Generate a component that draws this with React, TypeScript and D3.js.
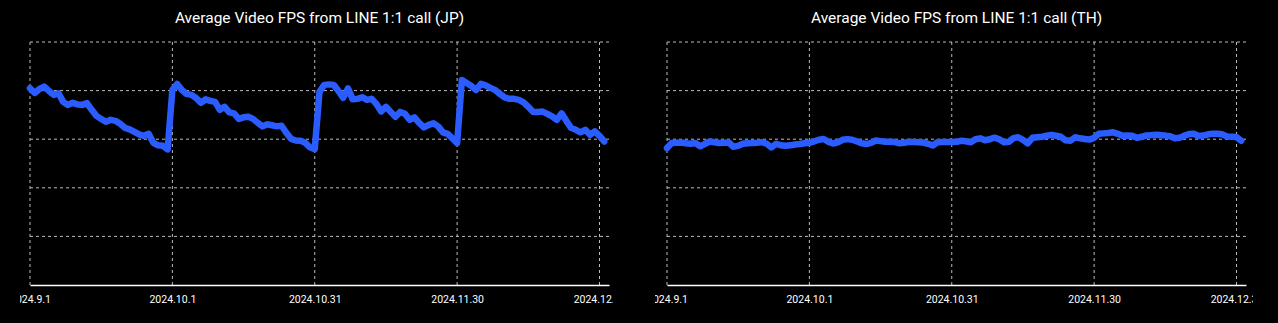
import React, { useEffect, useRef } from "react";
import * as d3 from "d3";

// daily average FPS, 2024-09-01 .. 2024-12-31
const startDate = new Date(Date.UTC(2024, 8, 1));
const endDate = new Date(Date.UTC(2025, 0, 1));

const tickDates = [
  new Date(Date.UTC(2024, 8, 1)),
  new Date(Date.UTC(2024, 9, 1)),
  new Date(Date.UTC(2024, 9, 31)),
  new Date(Date.UTC(2024, 10, 30)),
  new Date(Date.UTC(2024, 11, 30)),
];
const tickLabels = ["2024.9.1", "2024.10.1", "2024.10.31", "2024.11.30", "2024.12.30"];
const yTicks = [0, 5, 10, 15, 20, 25];

const fpsJP = [
  20.25, 19.76, 20.17, 20.41, 19.97, 19.56, 19.73, 18.84, 18.53, 18.74,
  18.58, 18.53, 18.71, 18.02, 17.4, 17.09, 16.79, 16.99, 16.89, 16.58,
  16.17, 16.02, 15.76, 15.5, 15.35, 15.55, 14.63, 14.37, 14.32, 13.96,
  20.07, 20.69, 20.07, 19.66, 19.56, 19.25, 18.74, 19.1, 18.94, 18.84,
  18.02, 18.33, 17.76, 17.66, 17.09, 17.25, 17.3, 17.09, 16.68, 16.32,
  16.53, 16.43, 16.32, 16.38, 15.66, 15.04, 14.87, 14.84, 14.63, 14.17,
  13.98, 19.87, 20.59, 20.64, 20.59, 19.97, 19.25, 20.23, 19.1, 19.15,
  19.32, 19.05, 19.15, 18.63, 17.86, 18.33, 17.81, 17.3, 17.81, 17.61,
  16.99, 17.25, 16.68, 16.22, 16.48, 16.63, 16.32, 15.71, 15.55, 15.09,
  14.6, 21.1, 20.79, 20.48, 20.07, 20.69, 20.53, 20.28, 20.07, 19.66,
  19.3, 19.15, 19.15, 19.05, 18.79, 18.33, 17.81, 17.81, 17.84, 17.61,
  17.35, 16.99, 17.66, 16.89, 16.17, 15.97, 15.71, 15.97, 15.45, 15.81,
  15.35, 14.77,
];

const fpsTH = [
  14.09, 14.6, 14.63, 14.66, 14.58, 14.53, 14.6, 14.27, 14.53, 14.76,
  14.68, 14.6, 14.63, 14.66, 14.22, 14.32, 14.53, 14.58, 14.6, 14.63,
  14.7, 14.53, 14.15, 14.53, 14.37, 14.32, 14.37, 14.46, 14.5, 14.58,
  14.63, 14.78, 14.94, 15.02, 14.73, 14.56, 14.68, 14.94, 15.01, 14.94,
  14.78, 14.58, 14.5, 14.63, 14.87, 14.8, 14.73, 14.73, 14.7, 14.58,
  14.63, 14.73, 14.7, 14.68, 14.66, 14.53, 14.35, 14.68, 14.7, 14.7,
  14.7, 14.73, 14.84, 14.78, 14.68, 14.99, 15.09, 14.89, 14.99, 15.16,
  14.99, 14.68, 14.73, 15.11, 15.2, 14.94, 14.58, 15.14, 15.2, 15.25,
  15.35, 15.45, 15.35, 15.25, 14.89, 14.84, 15.2, 15.09, 15.02, 14.96,
  15.14, 15.55, 15.6, 15.64, 15.71, 15.55, 15.35, 15.37, 15.35, 15.14,
  15.25, 15.38, 15.42, 15.45, 15.42, 15.37, 15.3, 15.09, 15.14, 15.37,
  15.53, 15.57, 15.33, 15.37, 15.5, 15.55, 15.55, 15.5, 15.28, 15.25,
  15.22, 14.84,
];

const panels = [
  { id: "jp", title: "Average Video FPS from LINE 1:1 call (JP)", values: fpsJP, left: 30, right: 609, clipLeft: 20, clipRight: 613 },
  { id: "th", title: "Average Video FPS from LINE 1:1 call (TH)", values: fpsTH, left: 667, right: 1246, clipLeft: 655, clipRight: 1253 },
];

const W = 1278, H = 323;
const top = 42, bottom = 285;

export default function App() {
  const ref = useRef<SVGSVGElement>(null);

  useEffect(() => {
    const svg = d3.select(ref.current);
    svg.selectAll("*").remove();

    svg.append("rect").attr("width", W).attr("height", H).attr("fill", "#000");

    const y = d3.scaleLinear().domain([0, 25]).range([bottom, top]);

    panels.forEach((p) => {
      const x = d3.scaleUtc().domain([startDate, endDate]).range([p.left, p.right]);

      svg.append("clipPath").attr("id", "clip-" + p.id)
        .append("rect")
        .attr("x", p.clipLeft).attr("y", 0)
        .attr("width", p.clipRight - p.clipLeft).attr("height", H);

      svg.append("text")
        .attr("x", (p.left + p.right) / 2)
        .attr("y", 23)
        .attr("text-anchor", "middle")
        .attr("fill", "#fff")
        .attr("font-family", "Roboto, sans-serif")
        .attr("font-size", 15.5)
        .text(p.title);

      const g = svg.append("g").attr("clip-path", `url(#clip-${p.id})`);

      // grid
      g.selectAll(".hgrid")
        .data(yTicks.filter((t) => t > 0))
        .join("line")
        .attr("x1", p.left).attr("x2", p.right)
        .attr("y1", (d) => y(d)).attr("y2", (d) => y(d))
        .attr("stroke", "#bbb")
        .attr("stroke-width", 1)
        .attr("stroke-dasharray", "3,3");

      g.selectAll(".vgrid")
        .data(tickDates)
        .join("line")
        .attr("x1", (d) => x(d)).attr("x2", (d) => x(d))
        .attr("y1", top).attr("y2", bottom)
        .attr("stroke", "#bbb")
        .attr("stroke-width", 1)
        .attr("stroke-dasharray", "3,3");

      // x axis
      const axis = g.append("g")
        .attr("transform", `translate(0,${bottom})`)
        .call(
          d3.axisBottom(x)
            .tickValues(tickDates)
            .tickFormat((_d, i) => tickLabels[i])
            .tickSize(0)
            .tickSizeOuter(0)
            .tickPadding(11)
        );
      axis.select(".domain").attr("stroke", "#fff").attr("stroke-width", 1.5);
      axis.selectAll("text")
        .attr("fill", "#fff")
        .attr("font-family", "Roboto, sans-serif")
        .attr("font-size", 10.5);

      const line = d3.line<number>()
        .x((_d, i) => x(d3.utcDay.offset(startDate, i)))
        .y((d) => y(d));

      g.append("path")
        .datum(p.values)
        .attr("fill", "none")
        .attr("stroke", "#2a5cff")
        .attr("stroke-width", 6.5)
        .attr("stroke-linejoin", "round")
        .attr("stroke-linecap", "round")
        .attr("d", line);
    });
  }, []);

  return (
    <svg
      ref={ref}
      width={W}
      height={H}
      style={{ position: "absolute", left: 0, top: 0, display: "block" }}
    />
  );
}
